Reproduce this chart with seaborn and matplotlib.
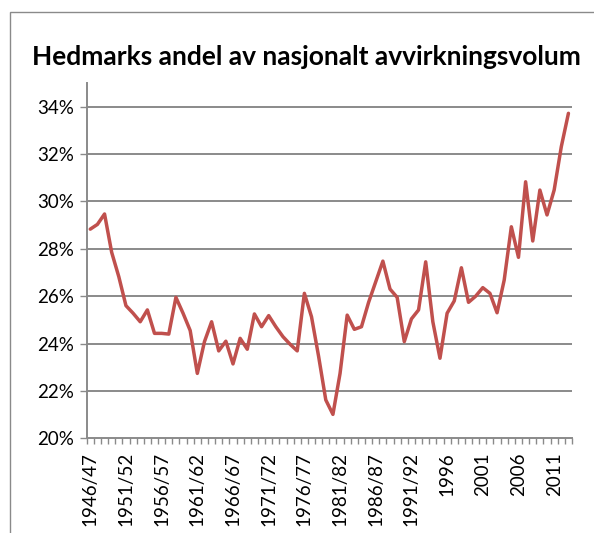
# Hedmarks andel av nasjonalt avvirkningsvolum

import pandas as pd
import matplotlib.pyplot as plt
import seaborn as sns
from matplotlib.patches import Rectangle
from matplotlib.ticker import FixedLocator, FuncFormatter

seasons = [f'{y}/{str(y + 1)[2:]}' for y in range(1946, 1992)]
calendar_years = [str(y) for y in range(1992, 2014)]
years = seasons + calendar_years

share = [28.83, 29.03, 29.47, 27.85, 26.82, 25.60, 25.28, 24.92, 25.42, 24.43,
         24.43, 24.40, 25.95, 25.28, 24.55, 22.74, 24.08, 24.92, 23.69, 24.10,
         23.14, 24.22, 23.76, 25.25, 24.71, 25.18, 24.71, 24.29, 23.97, 23.69,
         26.12, 25.13, 23.45, 21.62, 21.01, 22.74, 25.20, 24.60, 24.71, 25.74,
         26.61, 27.48, 26.30, 25.95, 24.08, 25.04, 25.42, 27.45, 24.92, 23.38,
         25.28, 25.80, 27.20, 25.74, 26.00, 26.36, 26.12, 25.30, 26.68, 28.93,
         27.64, 30.83, 28.33, 30.48, 29.43, 30.48, 32.31, 33.72]

label_years = years[::5]

df = pd.DataFrame({'year': years, 'share': share})
df['pos'] = range(len(df))

sns.set_style('white')
plt.rcParams['font.family'] = ['Lato', 'DejaVu Sans']

fig = plt.figure(figsize=(5.94, 5.33), dpi=100)
ax = fig.add_axes([86.7 / 594, 94.7 / 533, (572 - 86.7) / 594, (450 - 94.7) / 533])

grid = '#8a8a8a'
for v in range(22, 36, 2):
    ax.axhline(v, color=grid, lw=1.4, zorder=1)

sns.lineplot(data=df, x='pos', y='share', color='#C0504D', lw=2.5, ax=ax, zorder=3)

ax.set_xlim(-0.5, len(years) - 0.5)
ax.set_ylim(20, 35)
ax.set_yticks(range(20, 36, 2))
ax.yaxis.set_major_formatter(FuncFormatter(lambda v, p: f'{v:.0f}%'))

ax.set_xticks([years.index(y) for y in label_years])
ax.set_xticklabels(label_years, rotation=90)
ax.xaxis.set_minor_locator(FixedLocator([i - 0.5 for i in range(len(years) + 1)]))

ax.tick_params(axis='x', which='major', length=0, pad=10, labelsize=13.5, labelcolor='black')
ax.tick_params(axis='x', which='minor', bottom=True, length=4, width=1, color=grid)
ax.tick_params(axis='y', left=True, length=5, width=1, color=grid, pad=4, labelsize=13.5,
               labelcolor='black')

ax.set_xlabel('')
ax.set_ylabel('')
for s in ['top', 'right']:
    ax.spines[s].set_visible(False)
for s in ['left', 'bottom']:
    ax.spines[s].set_color(grid)
    ax.spines[s].set_linewidth(1.4)

fig.text(306 / 594, 1 - 57 / 533, 'Hedmarks andel av nasjonalt avvirkningsvolum',
         ha='center', va='center', fontsize=19, fontweight='bold', color='black')

# outer chart border, cut off at right and bottom
fig.add_artist(Rectangle((10 / 594, -0.1), 1.2, 1 - 12 / 533 + 0.1,
                         transform=fig.transFigure, fill=False,
                         edgecolor='#8a8a8a', lw=1))

plt.savefig('out.png', dpi=100)
